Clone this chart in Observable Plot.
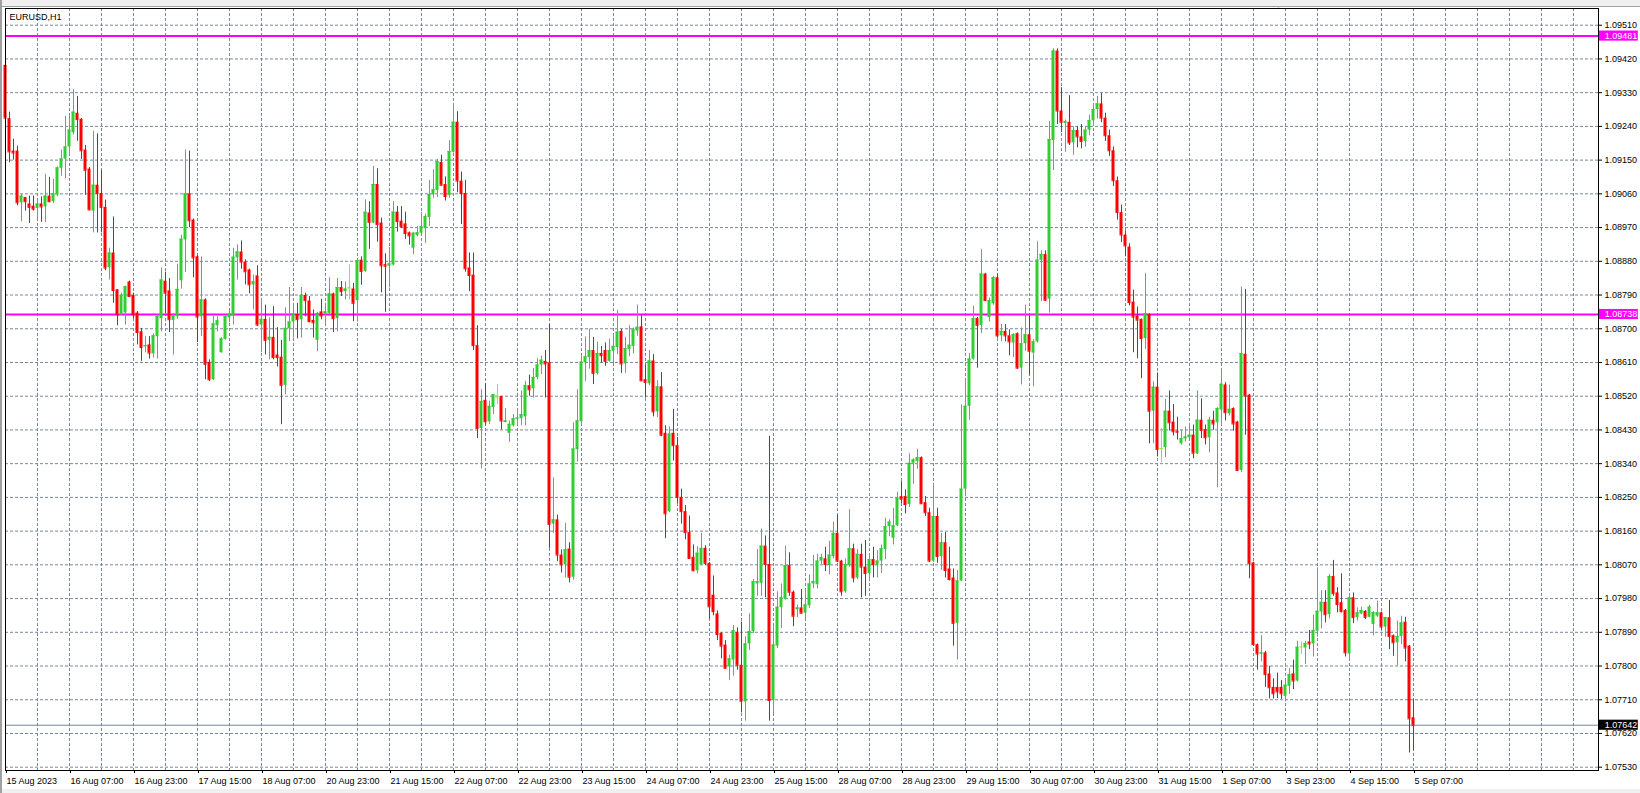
<!DOCTYPE html>
<html>
<head>
<meta charset="utf-8">
<script src="https://cdn.jsdelivr.net/npm/d3@7"></script>
<script src="https://cdn.jsdelivr.net/npm/@observablehq/plot@0.6"></script>
<style>
  html, body { margin: 0; padding: 0; background: #ffffff; }
  #wrap { position: relative; width: 1640px; height: 793px; overflow: hidden; }
  .chrome { position: absolute; background: #f0f0f0; }
</style>
</head>
<body>
<div id="wrap"></div>
<script>
const symbolLabel = "EURUSD,H1";

// Hourly OHLC, bar 0 = 15 Aug 2023 15:00 ... bar 352 = 5 Sep 07:00
const opens = [
1.09403,1.09261,1.09174,1.09174,1.09036,1.09050,1.09033,1.09027,1.09021,1.09033,
1.09025,1.09054,1.09039,1.09057,1.09128,1.09153,1.09185,1.09223,1.09275,1.09259,
1.09177,1.09126,1.09014,1.09083,1.09061,1.09024,1.08863,1.08902,1.08804,1.08737,
1.08742,1.08825,1.08789,1.08742,1.08692,1.08652,1.08657,1.08633,1.08679,1.08727,
1.08827,1.08801,1.08722,1.08732,1.08828,1.08937,1.09060,1.08990,1.08892,1.08732,
1.08777,1.08610,1.08564,1.08708,1.08636,1.08672,1.08729,1.08734,1.08889,1.08905,
1.08878,1.08857,1.08817,1.08841,1.08710,1.08725,1.08669,1.08677,1.08630,1.08624,
1.08549,1.08700,1.08718,1.08738,1.08724,1.08789,1.08774,1.08722,1.08669,1.08745,
1.08739,1.08741,1.08793,1.08727,1.08810,1.08799,1.08807,1.08806,1.08775,1.08883,
1.08853,1.09009,1.08982,1.09085,1.08982,1.08871,1.08867,1.08870,1.09011,1.08987,
1.08980,1.08956,1.08915,1.08949,1.08955,1.08967,1.08997,1.09058,1.09069,1.09144,
1.09085,1.09055,1.09171,1.09251,1.09094,1.09061,1.08862,1.08843,1.08655,1.08434,
1.08509,1.08452,1.08490,1.08520,1.08519,1.08450,1.08421,1.08441,1.08459,1.08460,
1.08465,1.08548,1.08540,1.08570,1.08603,1.08613,1.08609,1.08179,1.08190,1.08096,
1.08070,1.08112,1.08037,1.08377,1.08452,1.08609,1.08623,1.08642,1.08581,1.08634,
1.08642,1.08613,1.08640,1.08650,1.08693,1.08606,1.08644,1.08653,1.08694,1.08705,
1.08564,1.08553,1.08614,1.08478,1.08545,1.08421,1.08212,1.08421,1.08388,1.08250,
1.08212,1.08156,1.08090,1.08054,1.08070,1.08114,1.08074,1.07989,1.07939,1.07887,
1.07856,1.07798,1.07816,1.07890,1.07802,1.07704,1.07859,1.07892,1.08019,1.08021,
1.08120,1.08071,1.07708,1.07853,1.07956,1.07978,1.08068,1.07997,1.07950,1.07955,
1.07941,1.07961,1.08019,1.08017,1.08080,1.08086,1.08068,1.08092,1.08154,1.08080,
1.07998,1.08068,1.08113,1.08035,1.08098,1.08064,1.08047,1.08084,1.08068,1.08080,
1.08111,1.08172,1.08141,1.08174,1.08252,1.08252,1.08231,1.08341,1.08346,1.08356,
1.08236,1.08209,1.08080,1.08199,1.08092,1.08129,1.08059,1.08035,1.07914,1.08027,
1.08272,1.08493,1.08619,1.08727,1.08709,1.08846,1.08730,1.08767,1.08836,1.08681,
1.08693,1.08681,1.08662,1.08687,1.08595,1.08660,1.08684,1.08635,1.08665,1.08883,
1.08898,1.08779,1.09202,1.09441,1.09281,1.09248,1.09251,1.09196,1.09229,1.09212,
1.09200,1.09230,1.09255,1.09285,1.09300,1.09262,1.09215,1.09175,1.09095,1.09010,
1.08950,1.08918,1.08771,1.08734,1.08725,1.08674,1.08738,1.08480,1.08544,1.08378,
1.08383,1.08480,1.08451,1.08427,1.08393,1.08406,1.08409,1.08416,1.08366,1.08456,
1.08431,1.08409,1.08456,1.08449,1.08483,1.08550,1.08473,1.08487,1.08451,1.08322,
1.08632,1.08523,1.08075,1.07857,1.07832,1.07835,1.07779,1.07743,1.07743,1.07743,
1.07719,1.07746,1.07779,1.07760,1.07850,1.07848,1.07864,1.07859,1.07893,1.07944,
1.07970,1.07937,1.08039,1.07995,1.07969,1.07948,1.07832,1.07982,1.07929,1.07939,
1.07946,1.07930,1.07911,1.07933,1.07942,1.07904,1.07929,1.07881,1.07862,1.07879,
1.07917,1.07853,1.07662
];
const highs = [
1.09441,1.09278,1.09206,1.09187,1.09059,1.09050,1.09054,1.09054,1.09043,1.09052,
1.09112,1.09104,1.09099,1.09132,1.09177,1.09267,1.09267,1.09338,1.09320,1.09261,
1.09189,1.09130,1.09227,1.09220,1.09122,1.09043,1.08915,1.08998,1.08804,1.08795,
1.08814,1.08827,1.08795,1.08746,1.08701,1.08679,1.08679,1.08686,1.08737,1.08862,
1.08851,1.08834,1.08741,1.08872,1.08950,1.09177,1.09174,1.08993,1.08895,1.08892,
1.08780,1.08617,1.08734,1.08732,1.08676,1.08737,1.08746,1.08915,1.08924,1.08934,
1.08884,1.08859,1.08843,1.08868,1.08777,1.08763,1.08729,1.08759,1.08703,1.08669,
1.08756,1.08810,1.08759,1.08768,1.08810,1.08795,1.08786,1.08750,1.08743,1.08779,
1.08768,1.08836,1.08795,1.08834,1.08826,1.08825,1.08870,1.08821,1.08884,1.08892,
1.09044,1.09039,1.09133,1.09127,1.08995,1.08900,1.08917,1.09039,1.09026,1.09026,
1.09011,1.08958,1.08956,1.08973,1.09011,1.09006,1.09096,1.09124,1.09152,1.09163,
1.09105,1.09202,1.09299,1.09279,1.09118,1.09096,1.08902,1.08902,1.08708,1.08537,
1.08553,1.08507,1.08524,1.08551,1.08520,1.08487,1.08454,1.08471,1.08485,1.08534,
1.08559,1.08576,1.08594,1.08620,1.08627,1.08642,1.08711,1.08302,1.08203,1.08110,
1.08181,1.08129,1.08449,1.08537,1.08631,1.08678,1.08699,1.08677,1.08664,1.08653,
1.08662,1.08672,1.08686,1.08749,1.08699,1.08677,1.08708,1.08702,1.08763,1.08735,
1.08603,1.08642,1.08631,1.08561,1.08583,1.08441,1.08438,1.08485,1.08410,1.08272,
1.08228,1.08200,1.08123,1.08118,1.08154,1.08121,1.08076,1.08040,1.07947,1.07889,
1.07868,1.07829,1.07908,1.07902,1.07917,1.07878,1.07939,1.08031,1.08111,1.08166,
1.08147,1.08413,1.07905,1.07998,1.08019,1.08120,1.08102,1.08000,1.07963,1.08004,
1.08006,1.08043,1.08095,1.08098,1.08098,1.08117,1.08133,1.08184,1.08202,1.08082,
1.08086,1.08217,1.08125,1.08111,1.08125,1.08135,1.08096,1.08117,1.08108,1.08123,
1.08194,1.08190,1.08221,1.08264,1.08292,1.08270,1.08366,1.08353,1.08378,1.08358,
1.08252,1.08221,1.08288,1.08221,1.08154,1.08156,1.08117,1.08059,1.08055,1.08497,
1.08564,1.08634,1.08760,1.08730,1.08911,1.08848,1.08782,1.08840,1.08846,1.08711,
1.08711,1.08697,1.08687,1.08689,1.08702,1.08763,1.08733,1.08671,1.08932,1.08908,
1.08908,1.09253,1.09447,1.09447,1.09343,1.09257,1.09322,1.09239,1.09239,1.09245,
1.09240,1.09270,1.09300,1.09320,1.09328,1.09275,1.09230,1.09185,1.09105,1.09030,
1.08960,1.08927,1.08803,1.08758,1.08726,1.08847,1.08740,1.08558,1.08582,1.08434,
1.08512,1.08534,1.08498,1.08464,1.08429,1.08438,1.08445,1.08443,1.08534,1.08513,
1.08443,1.08464,1.08480,1.08489,1.08591,1.08556,1.08550,1.08489,1.08453,1.08811,
1.08805,1.08525,1.08077,1.07859,1.07881,1.07839,1.07799,1.07766,1.07781,1.07761,
1.07759,1.07793,1.07816,1.07866,1.07864,1.07866,1.07895,1.07936,1.08062,1.08001,
1.08001,1.08044,1.08082,1.08009,1.08046,1.07951,1.07989,1.07995,1.07955,1.07957,
1.07948,1.07962,1.07945,1.07973,1.07944,1.07930,1.07975,1.07883,1.07920,1.07933,
1.07930,1.07855,1.07711
];
const lows = [
1.09225,1.09143,1.09150,1.09028,1.08985,1.09014,1.08981,1.09014,1.08994,1.08984,
1.08983,1.09036,1.09034,1.09052,1.09107,1.09100,1.09159,1.09217,1.09200,1.09152,
1.09056,1.09015,1.08956,1.08956,1.08956,1.08855,1.08830,1.08768,1.08708,1.08734,
1.08710,1.08786,1.08727,1.08657,1.08613,1.08636,1.08619,1.08622,1.08619,1.08692,
1.08741,1.08690,1.08630,1.08725,1.08806,1.08850,1.08970,1.08836,1.08663,1.08679,
1.08564,1.08559,1.08562,1.08692,1.08635,1.08670,1.08716,1.08710,1.08830,1.08859,
1.08817,1.08793,1.08750,1.08706,1.08636,1.08630,1.08617,1.08617,1.08598,1.08444,
1.08524,1.08666,1.08675,1.08673,1.08675,1.08732,1.08716,1.08675,1.08639,1.08724,
1.08708,1.08737,1.08690,1.08692,1.08786,1.08777,1.08777,1.08719,1.08718,1.08816,
1.08851,1.08912,1.08980,1.08931,1.08796,1.08744,1.08809,1.08868,1.08958,1.08967,
1.08939,1.08923,1.08898,1.08945,1.08951,1.08928,1.08973,1.09048,1.09050,1.09081,
1.09041,1.09048,1.09169,1.09063,1.08978,1.08851,1.08799,1.08642,1.08407,1.08326,
1.08441,1.08445,1.08471,1.08498,1.08430,1.08449,1.08397,1.08438,1.08443,1.08441,
1.08441,1.08520,1.08515,1.08564,1.08578,1.08515,1.08114,1.08154,1.08079,1.08048,
1.08035,1.08022,1.08029,1.08344,1.08443,1.08559,1.08592,1.08551,1.08576,1.08609,
1.08600,1.08611,1.08606,1.08631,1.08581,1.08581,1.08625,1.08633,1.08680,1.08559,
1.08515,1.08548,1.08465,1.08463,1.08412,1.08140,1.08209,1.08347,1.08234,1.08179,
1.08137,1.08085,1.08052,1.08046,1.08068,1.08068,1.07925,1.07934,1.07868,1.07819,
1.07792,1.07761,1.07773,1.07789,1.07675,1.07653,1.07841,1.07887,1.07986,1.07986,
1.07982,1.07653,1.07672,1.07847,1.07900,1.07976,1.07986,1.07905,1.07929,1.07939,
1.07927,1.07954,1.08006,1.08006,1.08071,1.08052,1.08043,1.08086,1.08076,1.07986,
1.07994,1.08064,1.08022,1.08031,1.07982,1.07986,1.08025,1.08035,1.08035,1.08047,
1.08084,1.08145,1.08123,1.08172,1.08233,1.08206,1.08223,1.08285,1.08325,1.08231,
1.08199,1.08076,1.08076,1.08074,1.08055,1.08035,1.08027,1.07853,1.07816,1.08025,
1.08252,1.08456,1.08616,1.08595,1.08687,1.08773,1.08718,1.08763,1.08675,1.08665,
1.08665,1.08628,1.08623,1.08592,1.08550,1.08640,1.08576,1.08545,1.08662,1.08773,
1.08773,1.08742,1.09122,1.09245,1.09224,1.09171,1.09189,1.09163,1.09183,1.09180,
1.09185,1.09215,1.09240,1.09260,1.09250,1.09200,1.09160,1.09080,1.08990,1.08930,
1.08892,1.08761,1.08636,1.08620,1.08567,1.08645,1.08393,1.08393,1.08358,1.08342,
1.08356,1.08427,1.08414,1.08403,1.08390,1.08398,1.08407,1.08353,1.08365,1.08407,
1.08390,1.08369,1.08429,1.08276,1.08439,1.08454,1.08467,1.08427,1.08320,1.08316,
1.08416,1.08033,1.07853,1.07789,1.07811,1.07743,1.07712,1.07712,1.07713,1.07711,
1.07704,1.07724,1.07737,1.07758,1.07831,1.07804,1.07844,1.07824,1.07877,1.07899,
1.07915,1.07926,1.07986,1.07942,1.07942,1.07824,1.07817,1.07913,1.07920,1.07937,
1.07924,1.07929,1.07880,1.07930,1.07895,1.07877,1.07844,1.07826,1.07800,1.07857,
1.07811,1.07568,1.07574
];
const closes = [
1.09262,1.09172,1.09169,1.09036,1.09054,1.09039,1.09024,1.09019,1.09033,1.09025,
1.09054,1.09039,1.09060,1.09129,1.09153,1.09185,1.09230,1.09278,1.09258,1.09175,
1.09123,1.09017,1.09083,1.09061,1.09024,1.08862,1.08902,1.08802,1.08737,1.08789,
1.08812,1.08786,1.08737,1.08690,1.08650,1.08655,1.08635,1.08681,1.08733,1.08830,
1.08795,1.08724,1.08734,1.08805,1.08939,1.09060,1.08988,1.08889,1.08731,1.08777,
1.08605,1.08564,1.08713,1.08721,1.08673,1.08732,1.08739,1.08891,1.08905,1.08878,
1.08852,1.08817,1.08825,1.08710,1.08725,1.08669,1.08677,1.08623,1.08623,1.08549,
1.08701,1.08718,1.08739,1.08724,1.08789,1.08775,1.08719,1.08716,1.08741,1.08734,
1.08745,1.08793,1.08727,1.08810,1.08799,1.08806,1.08809,1.08768,1.08882,1.08853,
1.09011,1.08984,1.09085,1.08978,1.08868,1.08867,1.08873,1.09011,1.08986,1.08973,
1.08954,1.08948,1.08955,1.08956,1.08972,1.08999,1.09058,1.09071,1.09146,1.09083,
1.09053,1.09173,1.09251,1.09094,1.09061,1.08860,1.08842,1.08655,1.08434,1.08506,
1.08452,1.08493,1.08524,1.08518,1.08454,1.08454,1.08445,1.08460,1.08462,1.08471,
1.08548,1.08537,1.08570,1.08603,1.08616,1.08606,1.08178,1.08190,1.08096,1.08070,
1.08110,1.08037,1.08379,1.08454,1.08611,1.08625,1.08642,1.08581,1.08634,1.08628,
1.08613,1.08642,1.08653,1.08691,1.08606,1.08647,1.08656,1.08697,1.08704,1.08561,
1.08557,1.08614,1.08478,1.08545,1.08416,1.08206,1.08419,1.08388,1.08250,1.08212,
1.08156,1.08087,1.08054,1.08101,1.08114,1.08074,1.07958,1.07945,1.07884,1.07853,
1.07794,1.07819,1.07894,1.07802,1.07706,1.07859,1.07892,1.08025,1.08025,1.08120,
1.08071,1.07708,1.07856,1.07957,1.07982,1.08068,1.07997,1.07933,1.07955,1.07941,
1.07963,1.08019,1.08025,1.08080,1.08089,1.08071,1.08096,1.08154,1.08080,1.07998,
1.08071,1.08113,1.08035,1.08098,1.08064,1.08047,1.08084,1.08071,1.08080,1.08113,
1.08172,1.08184,1.08174,1.08248,1.08245,1.08231,1.08341,1.08350,1.08356,1.08233,
1.08209,1.08080,1.08199,1.08092,1.08129,1.08055,1.08031,1.07914,1.08027,1.08272,
1.08493,1.08619,1.08727,1.08709,1.08846,1.08775,1.08775,1.08836,1.08681,1.08693,
1.08681,1.08665,1.08684,1.08595,1.08660,1.08684,1.08640,1.08665,1.08883,1.08898,
1.08776,1.09205,1.09441,1.09281,1.09251,1.09253,1.09196,1.09229,1.09212,1.09200,
1.09230,1.09255,1.09285,1.09300,1.09262,1.09215,1.09175,1.09095,1.09010,1.08950,
1.08921,1.08770,1.08731,1.08723,1.08674,1.08740,1.08480,1.08544,1.08378,1.08380,
1.08480,1.08449,1.08425,1.08424,1.08407,1.08411,1.08416,1.08368,1.08456,1.08429,
1.08409,1.08456,1.08446,1.08487,1.08552,1.08476,1.08485,1.08446,1.08322,1.08634,
1.08520,1.08073,1.07857,1.07832,1.07835,1.07777,1.07742,1.07726,1.07731,1.07726,
1.07749,1.07777,1.07760,1.07850,1.07851,1.07860,1.07859,1.07895,1.07946,1.07970,
1.07937,1.08039,1.07993,1.07964,1.07945,1.07835,1.07982,1.07929,1.07942,1.07948,
1.07930,1.07957,1.07942,1.07942,1.07904,1.07929,1.07879,1.07862,1.07879,1.07915,
1.07848,1.07659,1.07642
];

// Time axis: label every 16 bars
const timeTickBars = [0,16,32,48,64,80,96,112,128,144,160,176,192,208,224,240,256,272,288,304,320,336,352];
const timeTickLabels = ["15 Aug 2023","16 Aug 07:00","16 Aug 23:00","17 Aug 15:00","18 Aug 07:00","20 Aug 23:00",
  "21 Aug 15:00","22 Aug 07:00","22 Aug 23:00","23 Aug 15:00","24 Aug 07:00","24 Aug 23:00","25 Aug 15:00",
  "28 Aug 07:00","28 Aug 23:00","29 Aug 15:00","30 Aug 07:00","30 Aug 23:00","31 Aug 15:00","1 Sep 07:00",
  "3 Sep 23:00","4 Sep 15:00","5 Sep 07:00"];
// vertical grid every 8 bars
const gridBars = [8,16,24,32,40,48,56,64,72,80,88,96,104,112,120,128,136,144,152,160,168,176,184,192,200,208,
  216,224,232,240,248,256,264,272,280,288,296,304,312,320,328,336,344,352,360,368,376,384,392];
const priceTicks = [1.07530,1.07620,1.07710,1.07800,1.07890,1.07980,1.08070,1.08160,1.08250,1.08340,1.08430,
  1.08520,1.08610,1.08700,1.08790,1.08880,1.08970,1.09060,1.09150,1.09240,1.09330,1.09420,1.09510];
const levelLines = [1.09481, 1.08738];
const currentPrice = 1.07642;

const candles = closes.map((c, i) => ({i, o: opens[i], h: highs[i], l: lows[i], c}));
const candleColor = d => Math.abs(d.c - d.o) < 0.000025 ? "#7CFC00" : (d.c > d.o ? "#32CD32" : "#FF0000");
const labelOf = new Map(timeTickBars.map((b, k) => [b, timeTickLabels[k]]));
const fmt = d3.format(".5f");

const tags = [
  {p: levelLines[0], bg: "#FF00FF"},
  {p: levelLines[1], bg: "#FF00FF"},
  {p: currentPrice, bg: "#000000"}
];

const chart = Plot.plot({
  width: 1640,
  height: 793,
  marginLeft: 5,
  marginRight: 42,
  marginTop: 8,
  marginBottom: 23,
  x: {type: "linear", domain: [0, 398.25], axis: null},
  y: {type: "linear", domain: [1.075212, 1.095546], axis: null},
  color: {type: "identity"},
  style: {fontFamily: "'Liberation Sans', Arial, sans-serif", fontSize: "9px", background: "white", color: "black", overflow: "visible"},
  marks: [
    Plot.ruleY(priceTicks, {stroke: "#778899", strokeDasharray: "3,2"}),
    Plot.ruleX(gridBars, {stroke: "#778899", strokeDasharray: "3,2"}),
    Plot.ruleY([currentPrice], {stroke: "#778899"}),
    Plot.ruleY(levelLines, {stroke: "#FF00FF", strokeWidth: 2}),
    Plot.ruleX(candles, {x: "i", y1: "l", y2: "h", stroke: candleColor}),
    Plot.rect(candles, {x1: d => d.i - 0.375, x2: d => d.i + 0.375, y1: "o", y2: "c", fill: candleColor}),
    Plot.ruleY(candles, {x1: d => d.i - 0.375, x2: d => d.i + 0.375, y: "c", stroke: candleColor}),
    Plot.frame({stroke: "black"}),
    Plot.axisY(priceTicks, {anchor: "right", tickSize: 3, tickPadding: 3, tickFormat: fmt, label: null}),
    Plot.axisX(timeTickBars, {anchor: "bottom", tickSize: 3, tickPadding: 4, textAnchor: "start", dx: 1,
      tickFormat: d => labelOf.get(d), label: null}),
    Plot.rect(tags, {x1: 398.5, x2: 408.2, y1: d => d.p - 0.000135, y2: d => d.p + 0.000135, fill: "bg"}),
    Plot.text(tags, {x: 399.8, y: "p", text: d => fmt(d.p), fill: "white", textAnchor: "start"}),
    Plot.text([symbolLabel], {frameAnchor: "top-left", dx: 4, dy: 5, fill: "black"}),
    Plot.text(["\u25BC"], {frameAnchor: "top-left", dx: 1269, dy: -6, fill: "#8c9aa8", fontSize: 8})
  ]
});

const wrap = document.getElementById("wrap");
wrap.appendChild(chart);
const addChrome = (l, t, w, h, bg) => {
  const d = document.createElement("div");
  d.className = "chrome";
  Object.assign(d.style, {left: l + "px", top: t + "px", width: w + "px", height: h + "px", background: bg});
  wrap.appendChild(d);
};
addChrome(0, 0, 1640, 6, "#f0f0f0");
addChrome(0, 6, 1640, 1, "#a0a0a0");
addChrome(0, 789, 1640, 4, "#f0f0f0");
addChrome(0, 0, 2, 793, "#a0a0a0");
</script>
</body>
</html>
